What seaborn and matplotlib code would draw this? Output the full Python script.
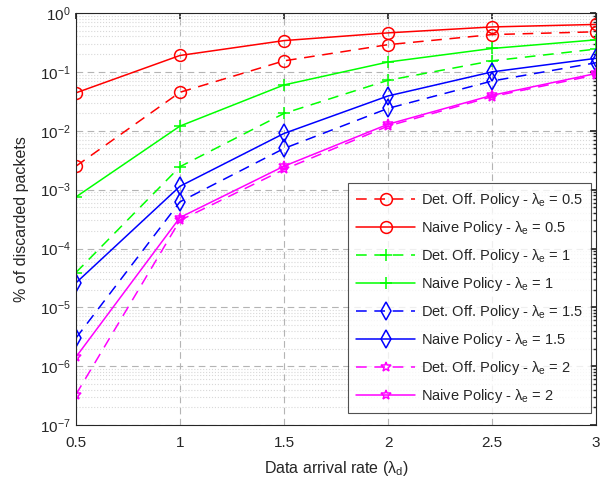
import numpy as np
import pandas as pd
import matplotlib
matplotlib.use('Agg')
import matplotlib.pyplot as plt
import seaborn as sns
from matplotlib.ticker import LogLocator

# data arrival rate (lambda_d)
arrival_rate = [0.5, 1.0, 1.5, 2.0, 2.5, 3.0]
rate_labels = ['0.5', '1', '1.5', '2', '2.5', '3']

# discarded packets
det_05 = [2.5e-3, 0.045, 0.154, 0.29, 0.43, 0.48]
naive_05 = [0.044, 0.19, 0.34, 0.46, 0.58, 0.64]
det_1 = [3.9e-5, 2.45e-3, 0.0197, 0.072, 0.154, 0.244]
naive_1 = [7.5e-4, 0.012, 0.06, 0.147, 0.25, 0.35]
det_15 = [3.0e-6, 6.2e-4, 0.005, 0.024, 0.07, 0.143]
naive_15 = [2.6e-5, 1.14e-3, 0.009, 0.039, 0.10, 0.17]
det_2 = [3.3e-7, 3.0e-4, 0.0022, 0.012, 0.038, 0.089]
naive_2 = [1.43e-6, 3.36e-4, 0.0025, 0.0129, 0.040, 0.094]

series = [
    (r'Det. Off. Policy - $\lambda_e$ = 0.5', det_05, '#ff0000', 'o', True, 8.5),
    (r'Naive Policy - $\lambda_e$ = 0.5', naive_05, '#ff0000', 'o', False, 8.5),
    (r'Det. Off. Policy - $\lambda_e$ = 1', det_1, '#00ff00', '+', True, 8.5),
    (r'Naive Policy - $\lambda_e$ = 1', naive_1, '#00ff00', '+', False, 8.5),
    (r'Det. Off. Policy - $\lambda_e$ = 1.5', det_15, '#0000ff', 'd', True, 9),
    (r'Naive Policy - $\lambda_e$ = 1.5', naive_15, '#0000ff', 'd', False, 9),
    (r'Det. Off. Policy - $\lambda_e$ = 2', det_2, '#ff00ff', '*', True, 7.5),
    (r'Naive Policy - $\lambda_e$ = 2', naive_2, '#ff00ff', '*', False, 7.5),
]

sns.set_theme(style='white')
plt.rcParams['font.family'] = ['Liberation Sans', 'DejaVu Sans']
plt.rcParams['mathtext.fontset'] = 'custom'
plt.rcParams['mathtext.rm'] = 'Liberation Sans'
plt.rcParams['mathtext.it'] = 'Liberation Sans'

fig = plt.figure(figsize=(6.12, 4.82), dpi=100)
ax = fig.add_axes([0.124, 0.118, 0.850, 0.855])

for label, vals, color, marker, dashed, ms in series:
    df = pd.DataFrame({'rate': arrival_rate, 'discarded': vals})
    sns.lineplot(data=df, x='rate', y='discarded', ax=ax, color=color,
                 marker=marker, markersize=ms, markerfacecolor='none',
                 markeredgecolor=color, markeredgewidth=1.1,
                 linewidth=1.1, label=label)
    if dashed:
        ax.lines[-1].set_dashes((7, 5))

ax.set_yscale('log')
ax.set_xlim(0.5, 3)
ax.set_ylim(1e-7, 1)
ax.set_xticks(arrival_rate)
ax.set_xticklabels(rate_labels)
ax.yaxis.set_major_locator(LogLocator(base=10, numticks=12))
ax.yaxis.set_minor_locator(LogLocator(base=10, subs=np.arange(2, 10), numticks=12))

ax.grid(which='major', color='#b4b4b4', linestyle=(0, (6, 4)), linewidth=0.8)
ax.grid(which='minor', axis='y', color='#d8d8d8', linestyle=':', linewidth=0.8)
ax.set_axisbelow(True)

ax.tick_params(which='both', direction='in', top=True, right=True,
               labelsize=11, colors='#262626', length=4)
ax.tick_params(axis='x', pad=8)
ax.tick_params(which='minor', length=2)
for s in ax.spines.values():
    s.set_color('#262626')
    s.set_linewidth(0.8)

ax.set_xlabel(r'Data arrival rate ($\lambda_d$)', fontsize=11.5, color='#262626', labelpad=6)
ax.set_ylabel('% of discarded packets', fontsize=11.5, color='#262626', labelpad=8)

leg = ax.legend(loc='lower right', bbox_to_anchor=(0.99, 0.03), borderaxespad=0,
                fontsize=10.5, frameon=True, fancybox=False, edgecolor='#262626',
                handlelength=4.0, labelspacing=0.68, borderpad=0.55,
                handletextpad=0.4)
leg.get_frame().set_linewidth(0.8)
for t in leg.get_texts():
    t.set_color('#262626')

fig.savefig('out.png', dpi=100)
